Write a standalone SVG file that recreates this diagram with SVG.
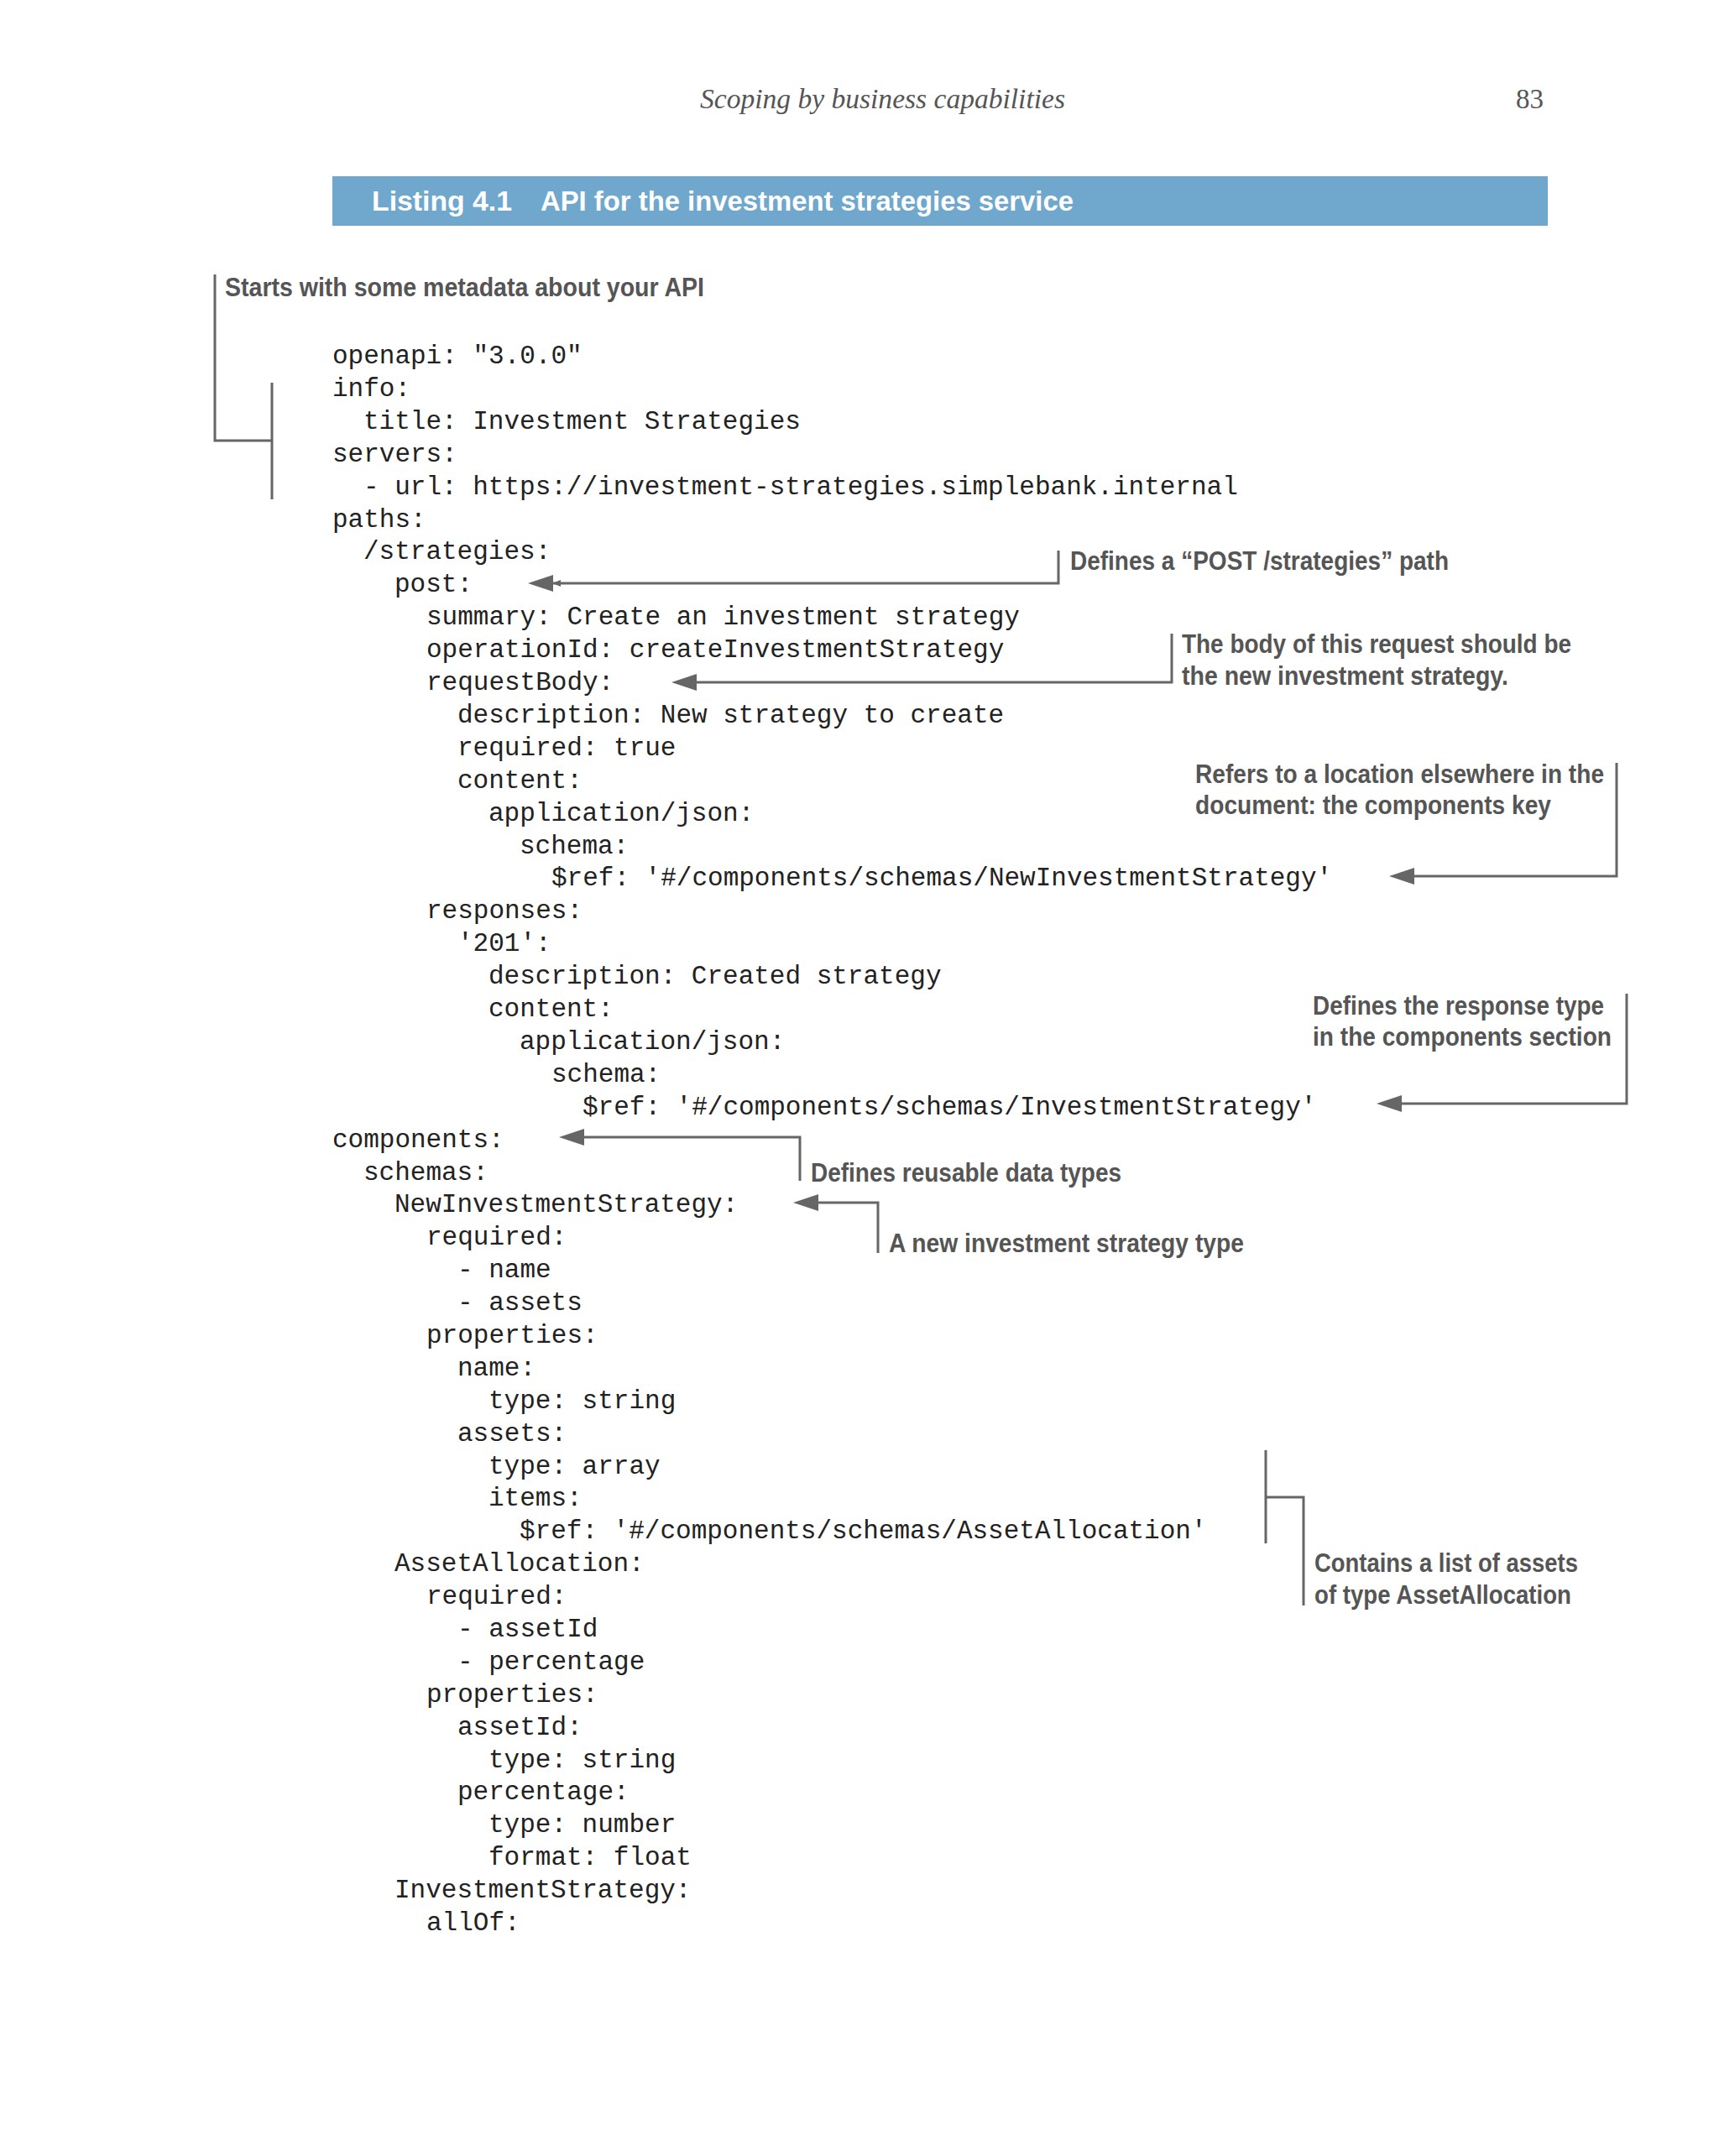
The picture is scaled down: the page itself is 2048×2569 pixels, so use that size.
<svg xmlns="http://www.w3.org/2000/svg" width="2048" height="2569" viewBox="0 0 2048 2569">
<style>
.code{font-family:"Liberation Mono",monospace;font-size:31px;fill:#222}
.ann{font-family:"Liberation Sans",sans-serif;font-weight:bold;font-size:32px;fill:#555}
.ln{fill:none;stroke:#666;stroke-width:3}
</style>
<defs><marker id="ah" markerWidth="10" markerHeight="8" refX="9" refY="4" orient="auto" markerUnits="userSpaceOnUse" viewBox="0 0 10 8"><path d="M0,0L10,4L0,8z" fill="#666"/></marker>
<marker id="a" viewBox="0 0 30 20" refX="0" refY="10" markerWidth="30" markerHeight="20" markerUnits="userSpaceOnUse" orient="auto"><path d="M0,10L30,0L30,20z" fill="#666"/></marker></defs>
<g id="header">
<text x="834" y="129" font-family="Liberation Serif,serif" font-style="italic" font-size="33" fill="#555" textLength="435" lengthAdjust="spacingAndGlyphs">Scoping by business capabilities</text>
<text x="1806" y="129" font-family="Liberation Serif,serif" font-size="33" fill="#555">83</text>
</g>
<g id="title">
<rect x="396" y="210" width="1448" height="59" fill="#6fa7cd"/>
<text x="443" y="251" font-family="Liberation Sans,sans-serif" font-weight="bold" font-size="33" fill="#fff" textLength="167" lengthAdjust="spacingAndGlyphs">Listing 4.1</text>
<text x="644" y="251" font-family="Liberation Sans,sans-serif" font-weight="bold" font-size="33" fill="#fff" textLength="635" lengthAdjust="spacingAndGlyphs">API for the investment strategies service</text>
</g>
<g id="code" class="code">
<text x="396" y="433">openapi: "3.0.0"</text>
<text x="396" y="472">info:</text>
<text x="433" y="511">title: Investment Strategies</text>
<text x="396" y="550">servers:</text>
<text x="433" y="589">- url: https://investment-strategies.simplebank.internal</text>
<text x="396" y="628">paths:</text>
<text x="433" y="666">/strategies:</text>
<text x="470" y="705">post:</text>
<text x="508" y="744">summary: Create an investment strategy</text>
<text x="508" y="783">operationId: createInvestmentStrategy</text>
<text x="508" y="822">requestBody:</text>
<text x="545" y="861">description: New strategy to create</text>
<text x="545" y="900">required: true</text>
<text x="545" y="939">content:</text>
<text x="582" y="978">application/json:</text>
<text x="619" y="1017">schema:</text>
<text x="657" y="1055">$ref: '#/components/schemas/NewInvestmentStrategy'</text>
<text x="508" y="1094">responses:</text>
<text x="545" y="1133">'201':</text>
<text x="582" y="1172">description: Created strategy</text>
<text x="582" y="1211">content:</text>
<text x="619" y="1250">application/json:</text>
<text x="657" y="1289">schema:</text>
<text x="694" y="1328">$ref: '#/components/schemas/InvestmentStrategy'</text>
<text x="396" y="1367">components:</text>
<text x="433" y="1406">schemas:</text>
<text x="470" y="1444">NewInvestmentStrategy:</text>
<text x="508" y="1483">required:</text>
<text x="545" y="1522">- name</text>
<text x="545" y="1561">- assets</text>
<text x="508" y="1600">properties:</text>
<text x="545" y="1639">name:</text>
<text x="582" y="1678">type: string</text>
<text x="545" y="1717">assets:</text>
<text x="582" y="1756">type: array</text>
<text x="582" y="1794">items:</text>
<text x="619" y="1833">$ref: '#/components/schemas/AssetAllocation'</text>
<text x="470" y="1872">AssetAllocation:</text>
<text x="508" y="1911">required:</text>
<text x="545" y="1950">- assetId</text>
<text x="545" y="1989">- percentage</text>
<text x="508" y="2028">properties:</text>
<text x="545" y="2067">assetId:</text>
<text x="582" y="2106">type: string</text>
<text x="545" y="2144">percentage:</text>
<text x="582" y="2183">type: number</text>
<text x="582" y="2222">format: float</text>
<text x="470" y="2261">InvestmentStrategy:</text>
<text x="508" y="2300">allOf:</text>
</g>
<g id="connectors">
<path class="ln" d="M256,327V525H324M324,456V595"/>
<path class="ln" d="M1261,656V695H659" marker-end="url(#ah)"/>
<path class="ln" d="M1396,755V813H830"/>
<path class="ln" d="M1926,909V1044H1685"/>
<path class="ln" d="M1938,1184V1315H1670"/>
<path class="ln" d="M953,1407V1355H696"/>
<path class="ln" d="M1046,1493V1433H975"/>
<path class="ln" d="M1508,1728V1839M1508,1784H1553V1913"/>
<path d="M629,695L659,685V705z M800,813L830,803V823z M1655,1044L1685,1034V1054z M1640,1315L1670,1305V1325z M666,1355L696,1345V1365z M945,1433L975,1423V1443z" fill="#666"/>
</g>
<g id="ann1"><text class="ann" x="268" y="353" textLength="571" lengthAdjust="spacingAndGlyphs">Starts with some metadata about your API</text></g>
<g id="ann2"><text class="ann" x="1275" y="679" textLength="451" lengthAdjust="spacingAndGlyphs">Defines a “POST /strategies” path</text></g>
<g id="ann3"><text class="ann" x="1408" y="778" textLength="464" lengthAdjust="spacingAndGlyphs">The body of this request should be</text><text class="ann" x="1408" y="816" textLength="389" lengthAdjust="spacingAndGlyphs">the new investment strategy.</text></g>
<g id="ann4"><text class="ann" x="1424" y="933" textLength="487" lengthAdjust="spacingAndGlyphs">Refers to a location elsewhere in the</text><text class="ann" x="1424" y="970" textLength="424" lengthAdjust="spacingAndGlyphs">document: the components key</text></g>
<g id="ann5"><text class="ann" x="1564" y="1209" textLength="347" lengthAdjust="spacingAndGlyphs">Defines the response type</text><text class="ann" x="1564" y="1246" textLength="356" lengthAdjust="spacingAndGlyphs">in the components section</text></g>
<g id="ann6"><text class="ann" x="966" y="1408" textLength="370" lengthAdjust="spacingAndGlyphs">Defines reusable data types</text></g>
<g id="ann7"><text class="ann" x="1059" y="1492" textLength="423" lengthAdjust="spacingAndGlyphs">A new investment strategy type</text></g>
<g id="ann8"><text class="ann" x="1566" y="1873" textLength="314" lengthAdjust="spacingAndGlyphs">Contains a list of assets</text><text class="ann" x="1566" y="1911" textLength="306" lengthAdjust="spacingAndGlyphs">of type AssetAllocation</text></g>
</svg>
